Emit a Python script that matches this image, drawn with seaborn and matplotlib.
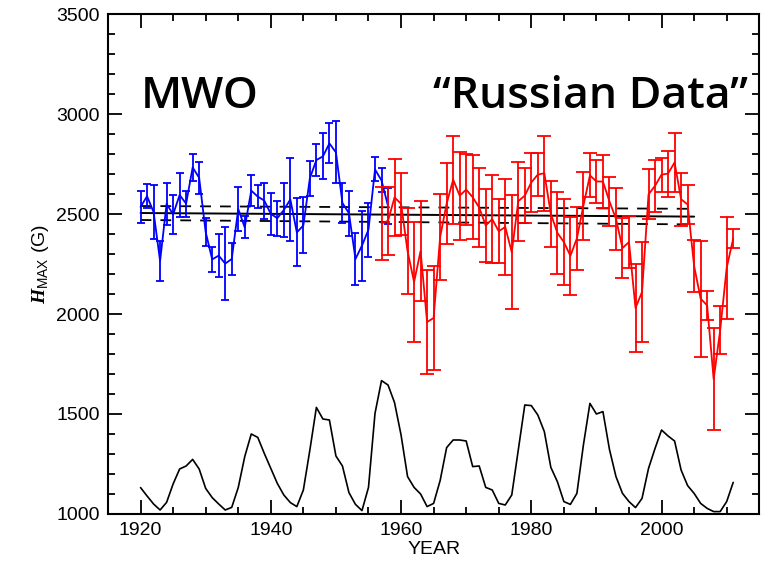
import numpy as np
import pandas as pd
import matplotlib
matplotlib.use("Agg")
import matplotlib.pyplot as plt
import seaborn as sns
from matplotlib.ticker import MultipleLocator

# ---------------- data ----------------
mwo_years = list(range(1920, 1959))
mwo_hmax = [2535, 2589, 2510, 2265, 2551, 2498, 2595, 2552, 2733, 2681,
            2410, 2273, 2292, 2252, 2275, 2525, 2433, 2617, 2587, 2567,
            2501, 2479, 2520, 2573, 2408, 2443, 2679, 2770, 2788, 2853,
            2808, 2555, 2504, 2275, 2342, 2422, 2723, 2668, 2540]
mwo_err = [82, 61, 137, 100, 106, 98, 112, 65, 68, 81,
           70, 61, 108, 182, 82, 112, 55, 77, 58, 90,
           106, 88, 133, 206, 170, 140, 88, 80, 115, 100,
           155, 102, 113, 128, 175, 135, 60, 60, 88]

rus_years = list(range(1957, 2012))
rus_hmax = [2453, 2466, 2583, 2551, 2314, 2160, 2315, 1960, 1980, 2385,
            2552, 2672, 2592, 2622, 2584, 2532, 2443, 2474, 2414, 2435,
            2309, 2564, 2592, 2658, 2697, 2704, 2501, 2406, 2360, 2291,
            2378, 2542, 2693, 2663, 2662, 2563, 2476, 2330, 2360, 2030,
            2110, 2598, 2641, 2697, 2702, 2758, 2574, 2548, 2240, 2077,
            2043, 1674, 1919, 2231, 2377]
rus_err = [183, 171, 193, 156, 214, 298, 252, 260, 260, 215,
           202, 220, 220, 177, 211, 196, 181, 221, 161, 240,
           286, 198, 136, 146, 107, 188, 164, 206, 215, 196,
           158, 170, 110, 107, 133, 123, 156, 150, 130, 220,
           250, 125, 129, 85, 115, 146, 133, 97, 128, 290,
           73, 254, 121, 256, 48]

ssn_years = list(range(1920, 2012))
ssn_curve = [1132, 1090, 1050, 1020, 1058, 1150, 1225, 1240, 1273, 1225,
             1128, 1082, 1050, 1020, 1033, 1132, 1287, 1400, 1383, 1303,
             1228, 1153, 1095, 1057, 1037, 1120, 1320, 1533, 1475, 1470,
             1290, 1240, 1107, 1048, 1017, 1133, 1503, 1667, 1645, 1557,
             1395, 1187, 1133, 1100, 1037, 1053, 1167, 1332, 1370, 1370,
             1365, 1237, 1240, 1133, 1120, 1053, 1045, 1095, 1320, 1545,
             1542, 1495, 1412, 1233, 1162, 1062, 1048, 1103, 1345, 1553,
             1500, 1512, 1323, 1187, 1103, 1062, 1032, 1078, 1228, 1328,
             1420, 1390, 1365, 1220, 1142, 1103, 1053, 1028, 1012, 1012,
             1062, 1158]

fit_years = [1920, 2005]
fit_mean = [2505, 2487]
fit_upper = [2540, 2526]
fit_lower = [2470, 2448]

x_ticks = [1920, 1940, 1960, 1980, 2000]
y_ticks = [1000, 1500, 2000, 2500, 3000, 3500]

mwo_df = pd.DataFrame({"year": mwo_years, "hmax": mwo_hmax})
rus_df = pd.DataFrame({"year": rus_years, "hmax": rus_hmax})
ssn_df = pd.DataFrame({"year": ssn_years, "val": ssn_curve})

# ---------------- plot ----------------
sns.set_theme(style="ticks")
plt.rcParams["font.family"] = ["Liberation Sans", "DejaVu Sans"]
plt.rcParams["mathtext.fontset"] = "custom"
plt.rcParams["mathtext.rm"] = "Liberation Sans"
plt.rcParams["mathtext.bfit"] = "Liberation Serif:italic:bold"
plt.rcParams["text.color"] = "black"
plt.rcParams["axes.labelcolor"] = "black"

fig = plt.figure(figsize=(7.68, 5.61), dpi=100)
ax = fig.add_axes([0.1406, 0.0838, 0.848, 0.8912])

# fit lines
ax.plot(fit_years, fit_mean, color="black", lw=1.4)
ax.plot(fit_years, fit_upper, color="black", lw=1.3, ls=(0, (6, 5)))
ax.plot(fit_years, fit_lower, color="black", lw=1.3, ls=(0, (6, 5)))

# MWO (blue)
ax.errorbar(mwo_years, mwo_hmax, yerr=mwo_err, fmt="none", ecolor="#0000ff",
            elinewidth=1.3, capsize=3.0, capthick=1.3)
sns.lineplot(data=mwo_df, x="year", y="hmax", ax=ax, color="#0000ff", lw=1.3)

# Russian data (red)
ax.errorbar(rus_years, rus_hmax, yerr=rus_err, fmt="none", ecolor="#ff0000",
            elinewidth=1.3, capsize=5, capthick=1.3)
sns.lineplot(data=rus_df, x="year", y="hmax", ax=ax, color="#ff0000", lw=1.3)

# sunspot-like curve (black)
sns.lineplot(data=ssn_df, x="year", y="val", ax=ax, color="black", lw=1.2)

ax.set_xlim(1915, 2015)
ax.set_ylim(1000, 3500)
ax.set_xticks(x_ticks)
ax.set_yticks(y_ticks)
ax.xaxis.set_minor_locator(MultipleLocator(5))
ax.yaxis.set_minor_locator(MultipleLocator(100))
ax.tick_params(which="both", direction="in", top=True, right=True,
               width=1.3, labelsize=14, colors="black")
ax.tick_params(which="major", length=10, pad=6)
ax.tick_params(which="minor", length=5)
for sp in ax.spines.values():
    sp.set_linewidth(1.5)
    sp.set_color("black")

ax.set_xlabel("YEAR", fontsize=14, labelpad=1, color="black")
ax.set_ylabel(r"$\mathbfit{H}_{\mathrm{MAX}}$ (G)", fontsize=14, labelpad=4,
              color="black")

title_font = ["Open Sans", "DejaVu Sans"]
ax.text(0.05, 0.836, "MWO", transform=ax.transAxes, fontsize=32,
        fontweight="semibold", family=title_font, va="center", ha="left")
ax.text(0.983, 0.836, "\u201cRussian Data\u201d", transform=ax.transAxes,
        fontsize=32, fontweight="semibold", family=title_font,
        va="center", ha="right")

fig.savefig("out.png", dpi=100)
